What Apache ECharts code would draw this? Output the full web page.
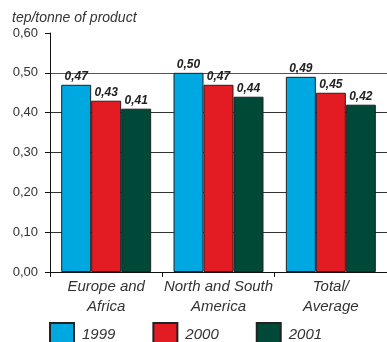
<!DOCTYPE html>
<html>
<head>
<meta charset="utf-8">
<script src="https://cdn.jsdelivr.net/npm/echarts@6/dist/echarts.min.js"></script>
<style>html,body{margin:0;padding:0;background:#fff}#c{width:387px;height:342px}</style>
</head>
<body>
<div id="c"></div>
<script>
var categories = ['Europe and\nAfrica', 'North and South\nAmerica', 'Total/\nAverage'];
var years = ['1999', '2000', '2001'];
var v1999 = [0.47, 0.50, 0.49];
var v2000 = [0.43, 0.47, 0.45];
var v2001 = [0.41, 0.44, 0.42];
var yTicks = [0, 0.1, 0.2, 0.3, 0.4, 0.5, 0.6];
var colors = ['#00A8E1', '#E31B23', '#004838'];

var FONT = '"Liberation Sans", Arial, sans-serif';
function fmt(v) { return v.toFixed(2).replace('.', ','); }

var seriesData = [v1999, v2000, v2001];
var series = seriesData.map(function (d, i) {
  return {
    name: years[i],
    type: 'bar',
    data: d,
    barWidth: 30,
    barGap: '0%',
    itemStyle: { color: colors[i], borderColor: '#222', borderWidth: 1 },
    label: {
      show: true, position: 'top', distance: 2,
      fontFamily: FONT, fontStyle: 'italic', fontWeight: 'bold', fontSize: 12, color: '#222',
      formatter: function (p) { return fmt(p.value); }
    }
  };
});

var chart = echarts.init(document.getElementById('c'), null, { renderer: 'canvas' });
chart.setOption({
  animation: false,
  title: {
    text: 'tep/tonne of product', left: 12, top: 11, padding: 0,
    textStyle: { fontFamily: FONT, fontStyle: 'italic', fontWeight: 'normal', fontSize: 14, color: '#333' }
  },
  legend: {
    data: years, left: 49, top: 322, padding: 0, icon: 'rect',
    itemWidth: 24, itemHeight: 24, itemGap: 37,
    textStyle: { fontFamily: FONT, fontStyle: 'italic', fontSize: 15, color: '#333', padding: [0, 0, 0, 3] }
  },
  grid: { left: 50, right: 0, top: 33, bottom: 70, containLabel: false },
  xAxis: {
    type: 'category', data: categories,
    axisLine: { lineStyle: { color: '#111', width: 1 } },
    axisTick: { show: true, length: 5, lineStyle: { color: '#111' } },
    axisLabel: { fontFamily: FONT, fontStyle: 'italic', fontSize: 15, color: '#333', lineHeight: 20, margin: 5, interval: 0 }
  },
  yAxis: {
    type: 'value', min: yTicks[0], max: yTicks[yTicks.length - 1], interval: 0.1,
    axisLine: { show: true, lineStyle: { color: '#111', width: 1 } },
    axisTick: { show: true, length: 5, lineStyle: { color: '#111' } },
    axisLabel: { fontFamily: FONT, fontSize: 13, color: '#333', margin: 12, formatter: function (v) { return fmt(v); } },
    splitLine: { show: true, lineStyle: { color: ['#333', '#333', '#333', '#333', '#333', '#555', 'rgba(0,0,0,0)'], width: 1 } }
  },
  series: series
});
</script>
</body>
</html>
